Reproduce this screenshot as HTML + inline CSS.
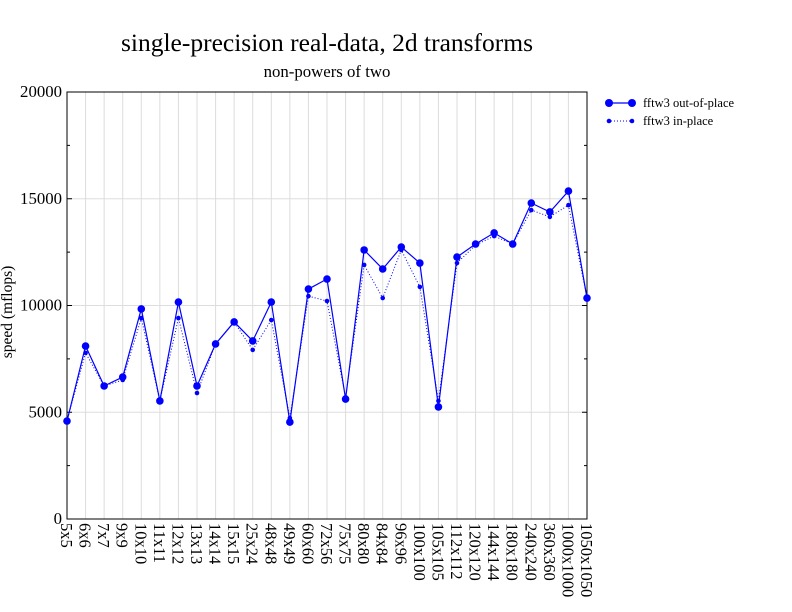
<!DOCTYPE html>
<html><head><meta charset="utf-8"><style>
body{margin:0;background:#fff;}
svg{display:block;font-family:"Liberation Serif",serif;}
</style></head><body>
<svg id="c" width="792" height="612" viewBox="0 0 792 612">
<text x="327" y="51" text-anchor="middle" font-size="25.5">single-precision real-data, 2d transforms</text>
<text x="327" y="77" text-anchor="middle" font-size="16.8">non-powers of two</text>
<text transform="translate(12,312) rotate(-90)" text-anchor="middle" font-size="15.5">speed (mflops)</text>
<g>
<g>
<line x1="608" y1="103" x2="632" y2="103" stroke="#0000ff" stroke-width="1.2"/>
<circle cx="609" cy="103" r="4" fill="#0000ff"/><circle cx="632" cy="103" r="4" fill="#0000ff"/>
<text x="643" y="107" font-size="12.5">fftw3 out-of-place</text></g>
<g>
<line x1="608" y1="121" x2="632" y2="121" stroke="#0000ff" stroke-width="1" stroke-dasharray="1,2"/>
<circle cx="609" cy="121" r="2.3" fill="#0000ff"/><circle cx="632" cy="121" r="2.3" fill="#0000ff"/>
<text x="643" y="125" font-size="12.5">fftw3 in-place</text></g>
</g>
<g id="plot"></g>
</svg>
<script>
const categories=["5x5","6x6","7x7","9x9","10x10","11x11","12x12","13x13","14x14","15x15","25x24","48x48","49x49","60x60","72x56","75x75","80x80","84x84","96x96","100x100","105x105","112x112","120x120","144x144","180x180","240x240","360x360","1000x1000","1050x1050"];
const outOfPlace=[4590,8100,6230,6650,9840,5530,10160,6230,8200,9230,8340,10160,4540,10770,11240,5620,12600,11710,12740,11990,5250,12270,12880,13400,12880,14800,14380,15360,10350];
const inPlace=[4600,7780,6230,6510,9410,5530,9410,5900,8200,9230,7920,9320,4730,10440,10210,5700,11900,10350,12600,10870,5530,11990,12830,13250,12880,14470,14150,14700,10350];
const yTicks=[0,5000,10000,15000,20000];
const X0=67,X1=587,Y0=519,Y1=92,YMAX=20000;
const xs=i=>X0+i*(X1-X0)/(categories.length-1);
const ys=v=>Y0-(v/YMAX)*(Y0-Y1);
const NS="http://www.w3.org/2000/svg";
const g=document.getElementById('plot');
function mk(t,a,p){const e=document.createElementNS(NS,t);for(const k in a)e.setAttribute(k,a[k]);(p||g).appendChild(e);return e;}
categories.forEach((c,i)=>{
 const l=mk('line',{x1:xs(i),x2:xs(i),y1:Y1,y2:Y0,stroke:'#dddddd','stroke-width':1});
 
 
 const t=mk('text',{transform:`translate(${xs(i)-6},523) rotate(90)`,'font-size':16.5});
 t.textContent=c;
 
 
});
for(let v=0;v<=YMAX;v+=2500){
 const major=v%5000===0;
 if(major){const l=mk('line',{x1:X0,x2:X1,y1:ys(v),y2:ys(v),stroke:'#dddddd','stroke-width':1});
 
 }
 const len=major?5:3;
 mk('line',{x1:X0,x2:X0+len,y1:ys(v),y2:ys(v),stroke:'#000'});
 mk('line',{x1:X1,x2:X1-len,y1:ys(v),y2:ys(v),stroke:'#000'});
}
yTicks.forEach(v=>{
 const t=mk('text',{x:X0-5,y:ys(v)+5,'text-anchor':'end','font-size':16.8});
 t.textContent=v;
 
 
});
const fr=mk('rect',{x:X0,y:Y1,width:X1-X0,height:Y0-Y1,fill:'none',stroke:'#000','stroke-width':1});


function series(vals,name,dash,r,w){
 const pts=vals.map((v,i)=>xs(i)+','+ys(v)).join(' ');
 const pl=mk('polyline',{points:pts,fill:'none',stroke:'#0000ff','stroke-width':w});
 if(dash)pl.setAttribute('stroke-dasharray',dash);
 
 
 vals.forEach((v,i)=>{
  const c=mk('circle',{cx:xs(i),cy:ys(v),r:r,fill:'#0000ff'});
  
  
 });
}
series(inPlace,'in-place','1,2',2.3,1);
series(outOfPlace,'out-of-place',null,3.8,1.2);
</script>
</body></html>
